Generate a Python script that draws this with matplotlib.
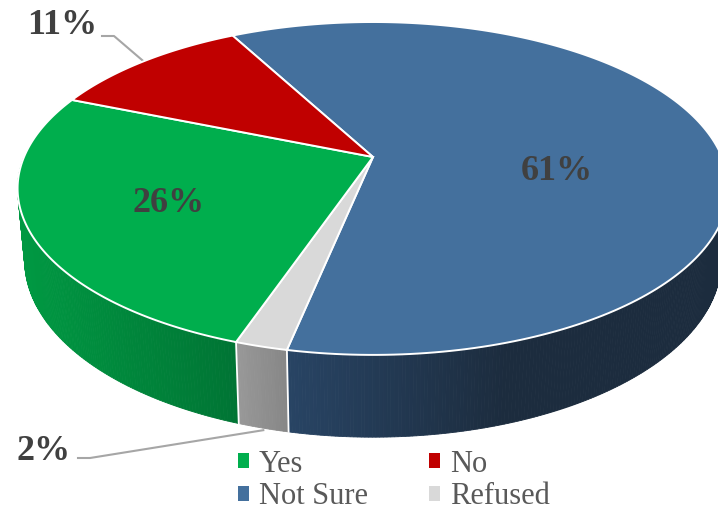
import numpy as np
import matplotlib
matplotlib.use('Agg')
import matplotlib.pyplot as plt
from matplotlib.patches import Patch

categories = ['Not Sure', 'Refused', 'Yes', 'No']
values = [61, 2, 26, 11]
labels = ['61%', '2%', '26%', '11%']
top_colors = ['#44709D', '#D9D9D9', '#00AE4D', '#C00000']
# side shading, left end and right end of each slice
side_left = [(40, 68, 100), (152, 152, 152), (0, 152, 66), (0, 152, 66)]
side_right = [(28, 44, 62), (134, 134, 134), (0, 116, 52), (0, 116, 52)]

plt.rcParams['font.family'] = ['Liberation Serif', 'DejaVu Serif']

W, H = 718, 511
fig = plt.figure(figsize=(W / 100, H / 100), dpi=100)
ax = fig.add_axes([0, 0, 1, 1])
ax.set_xlim(0, W)
ax.set_ylim(H, 0)
ax.axis('off')

# pie projection
cx, cy = 373, 157
rx, ry, persp = 349, 160.5, 0.189
start_angle = 118


def top_rim(t):
    s = np.sin(np.radians(t))
    c = np.cos(np.radians(t))
    d = 1 + persp * s
    return rx * c / d, ry * s / d


def bottom_rim(t):
    x, y = top_rim(t)
    return 0.98 * x, y - (70 - 0.062 * y)


def to_pix(xy):
    return cx + xy[0], cy - xy[1]


angles = []
a = start_angle
for v in values:
    angles.append((a, a - v * 3.6))
    a -= v * 3.6

# side wall, only the front half of the rim shows
for n, ((a0, a1), cl, cr) in enumerate(zip(angles, side_left, side_right)):
    lo, hi = max(a1, -180), min(a0, 0)
    if lo >= hi:
        continue
    ts = np.append(np.arange(lo, hi, 0.5), hi)
    xmin, xmax = to_pix(top_rim(ts[0]))[0], to_pix(top_rim(ts[-1]))[0]
    for t0, t1 in zip(ts[:-1], ts[1:]):
        p = [to_pix(top_rim(t0)), to_pix(top_rim(t1)),
             to_pix(bottom_rim(t1)), to_pix(bottom_rim(t0))]
        f = (p[0][0] - xmin) / max(abs(xmax - xmin), 1)
        f = min(max(f, 0), 1)
        # the largest slice reaches its darkest tone half way along
        if n == 0:
            f = min(f / 0.5, 1)
        col = [(cl[i] + (cr[i] - cl[i]) * f) / 255 for i in range(3)]
        ax.fill([q[0] for q in p], [q[1] for q in p], color=col, lw=0.6, zorder=2)

# seams between slices on the wall
for (a0, a1) in angles[:2]:
    pa = to_pix(top_rim(a1))
    pb = to_pix(bottom_rim(a1))
    ax.plot([pa[0], pb[0]], [pa[1], pb[1]], color='white', lw=1.3, zorder=3)

# top face
for (a0, a1), col in zip(angles, top_colors):
    ts = np.linspace(a0, a1, 200)
    xs, ys = to_pix(top_rim(ts))
    ax.fill(np.r_[cx, xs], np.r_[cy, ys], facecolor=col, edgecolor='white',
            lw=1.4, joinstyle='miter', zorder=4)

# leader lines start at the middle of the small slices
mid_no = (angles[3][0] + angles[3][1]) / 2
p = to_pix(top_rim(mid_no))
ax.plot([102, 114, p[0]], [36, 36, p[1]], color='#A6A6A6', lw=1.5, zorder=1)
mid_ref = (angles[1][0] + angles[1][1]) / 2
p = to_pix(bottom_rim(mid_ref))
ax.plot([78, 90, p[0]], [458, 458, p[1] + 2], color='#A6A6A6', lw=1.5, zorder=1)

label_pos = [(557, 171), (44, 451), (169, 203), (62, 26)]
for txt, (x, y) in zip(labels, label_pos):
    ax.text(x, y, txt, ha='center', va='center', fontsize=26, fontweight='bold',
            color='#404040', zorder=5)

order = [2, 0, 3, 1]
handles = [Patch(facecolor=top_colors[i], edgecolor='none') for i in order]
names = [categories[i] for i in order]
ax.legend(handles, names, ncol=2, loc='center', bbox_to_anchor=(394 / W, 1 - 480.5 / H),
          frameon=False, fontsize=22, labelcolor='#595959', handlelength=0.36,
          handleheight=0.36, handletextpad=0.33, columnspacing=2.0, labelspacing=0.12,
          borderpad=0)

fig.savefig('out.png', dpi=100)
